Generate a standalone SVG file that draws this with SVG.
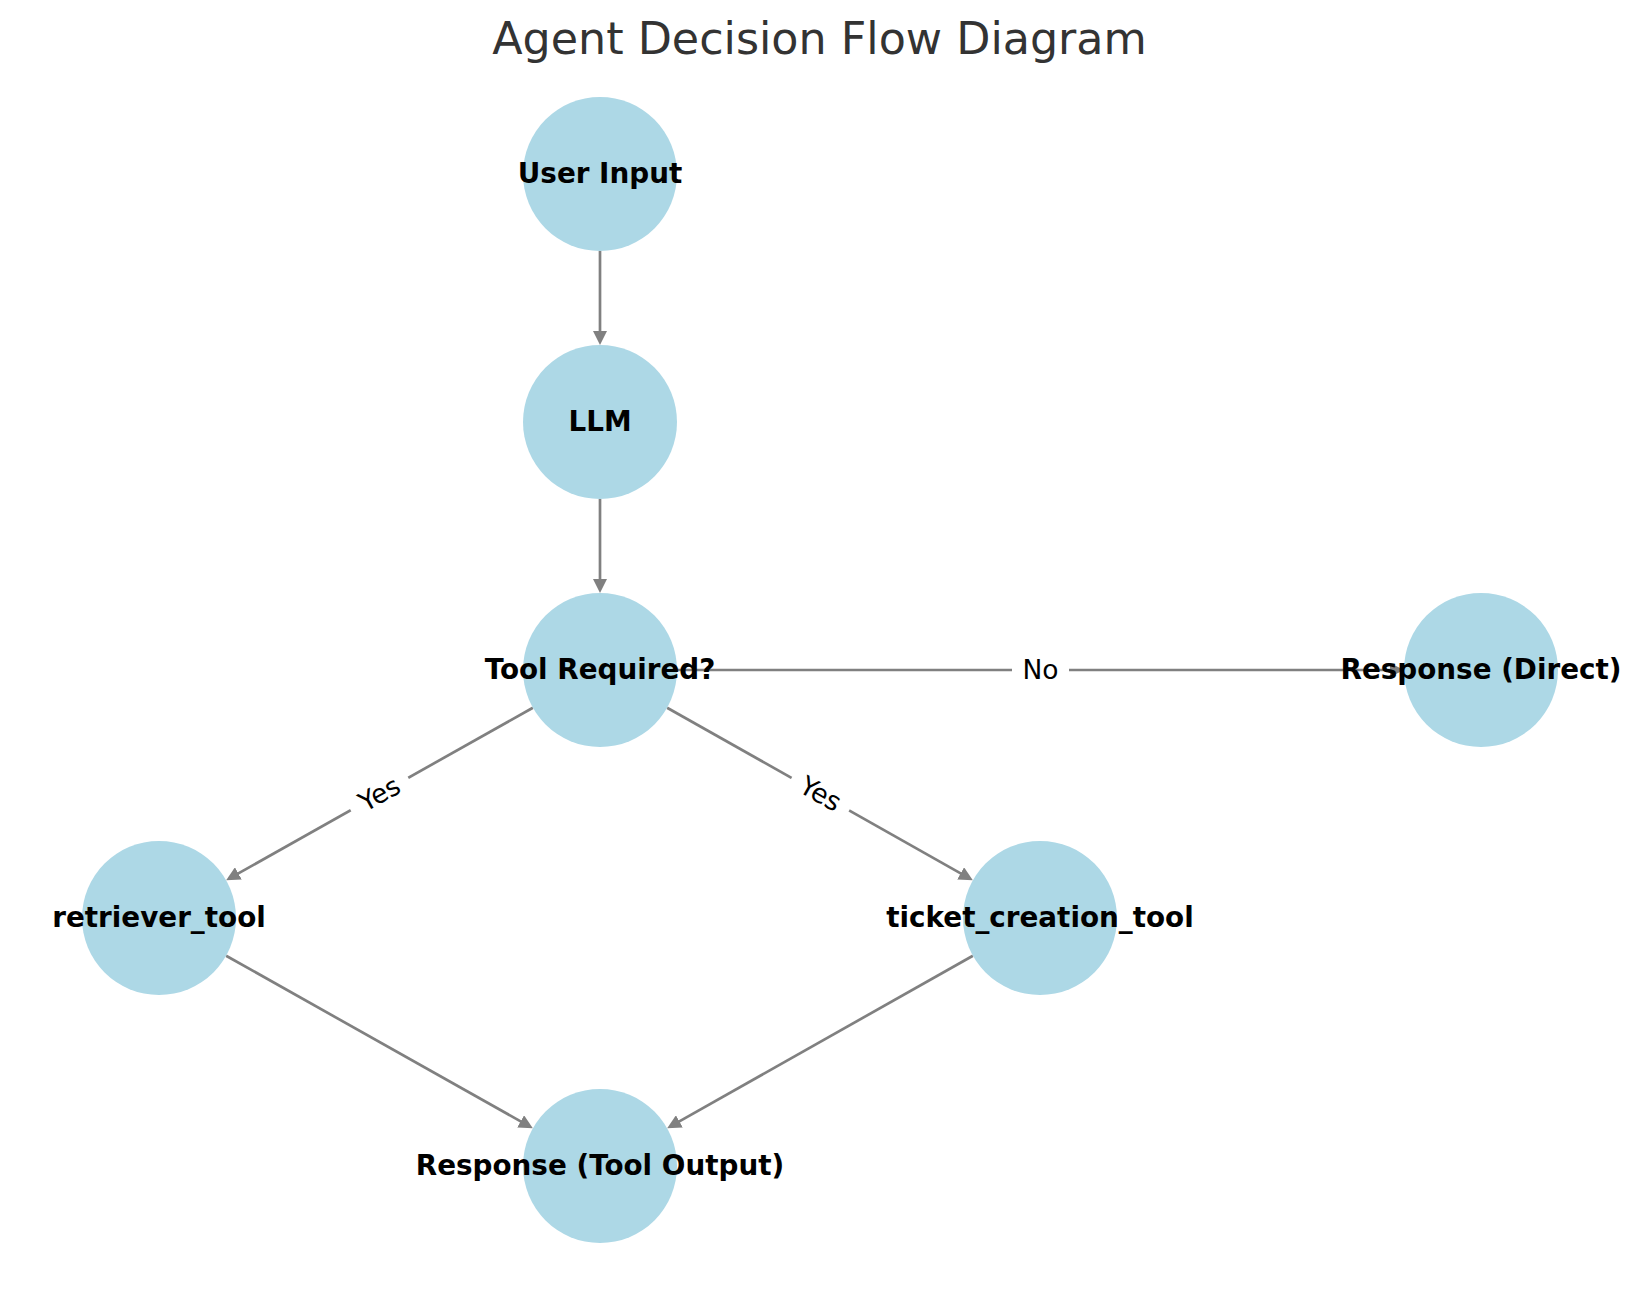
<svg xmlns="http://www.w3.org/2000/svg" width="1639" height="1290" viewBox="0 0 1639 1290">
<style>
.node{fill:#ADD8E6;}
.nlabel{font-family:"DejaVu Sans",sans-serif;font-weight:bold;font-size:27.8px;fill:#000;text-anchor:middle;}
.edge{stroke:#808080;stroke-width:2.7;fill:none;}
.elabel{font-family:"DejaVu Sans",sans-serif;font-size:26.5px;fill:#000;text-anchor:middle;}
.lbg{fill:#fff;}
.title{font-family:"DejaVu Sans",sans-serif;font-size:44.4px;fill:#333333;text-anchor:middle;}
</style>
<defs>
<marker id="arrow" markerUnits="userSpaceOnUse" markerWidth="14" markerHeight="14" refX="2" refY="7" orient="auto" viewBox="0 0 14 14">
<path d="M0,0 L14,7 L0,14 z" fill="#808080"/>
</marker>
</defs>
<rect width="1639" height="1290" fill="#fff"/>
<text class="title" x="819.5" y="54">Agent Decision Flow Diagram</text>
<g id="connectors">
<line class="edge" x1="600" y1="251" x2="600" y2="333" marker-end="url(#arrow)"/>
<line class="edge" x1="600" y1="499" x2="600" y2="581" marker-end="url(#arrow)"/>
<line class="edge" x1="677" y1="670" x2="1392" y2="670" marker-end="url(#arrow)"/>
<line class="edge" x1="532.9" y1="707.7" x2="236.6" y2="874.4" marker-end="url(#arrow)"/>
<line class="edge" x1="667.1" y1="707.7" x2="962.4" y2="874.4" marker-end="url(#arrow)"/>
<line class="edge" x1="226.1" y1="955.7" x2="522.4" y2="1122.4" marker-end="url(#arrow)"/>
<line class="edge" x1="972.9" y1="955.7" x2="677.6" y2="1122.4" marker-end="url(#arrow)"/>
<g id="edge-label-no">
<rect class="lbg" x="1012" y="656" width="57" height="28"/>
<text class="elabel" x="1040.5" y="679">No</text>
</g>
<g id="edge-label-yes-left" transform="translate(379.5,794) rotate(-29.35)">
<rect class="lbg" x="-33" y="-14" width="66" height="28"/>
<text class="elabel" x="0" y="9">Yes</text>
</g>
<g id="edge-label-yes-right" transform="translate(820.5,794) rotate(29.35)">
<rect class="lbg" x="-33" y="-14" width="66" height="28"/>
<text class="elabel" x="0" y="9">Yes</text>
</g>
</g>
<g id="node-user-input"><circle class="node" cx="600" cy="174" r="77"/><text class="nlabel" x="600" y="183">User Input</text></g>
<g id="node-llm"><circle class="node" cx="600" cy="422" r="77"/><text class="nlabel" x="600" y="431">LLM</text></g>
<g id="node-tool-required"><circle class="node" cx="600" cy="670" r="77"/><text class="nlabel" x="600" y="679">Tool Required?</text></g>
<g id="node-response-direct"><circle class="node" cx="1481" cy="670" r="77"/><text class="nlabel" x="1481" y="679">Response (Direct)</text></g>
<g id="node-retriever-tool"><circle class="node" cx="159" cy="918" r="77"/><text class="nlabel" x="159" y="927">retriever_tool</text></g>
<g id="node-ticket-creation-tool"><circle class="node" cx="1040" cy="918" r="77"/><text class="nlabel" x="1040" y="927">ticket_creation_tool</text></g>
<g id="node-response-tool-output"><circle class="node" cx="600" cy="1166" r="77"/><text class="nlabel" x="600" y="1175">Response (Tool Output)</text></g>
</svg>
